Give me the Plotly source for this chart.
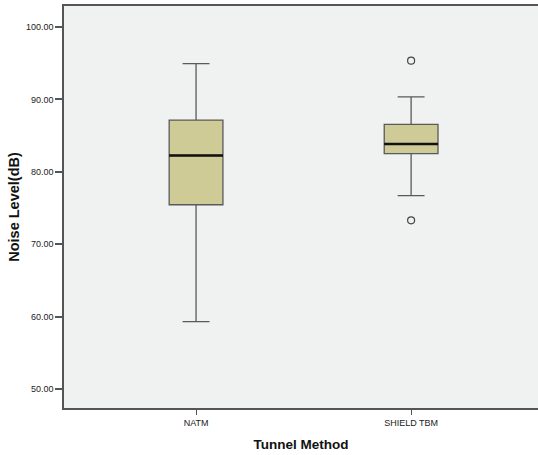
import plotly.graph_objects as go

categories = ["NATM", "SHIELD TBM"]
lower_whisker = [59.3, 76.7]
q1 = [75.45, 82.5]
median = [82.25, 83.85]
q3 = [87.15, 86.55]
upper_whisker = [94.95, 90.35]
outlier_cat = ["SHIELD TBM", "SHIELD TBM"]
outlier_val = [95.35, 73.3]

y_ticks = [50, 60, 70, 80, 90, 100]

FONT = "Liberation Sans, Arial, sans-serif"
BOX_FILL = "#CECB96"
BOX_LINE = "#5a5a5a"

fig = go.Figure()

fig.add_trace(go.Box(
    x=categories,
    q1=q1, median=median, q3=q3,
    lowerfence=lower_whisker, upperfence=upper_whisker,
    fillcolor=BOX_FILL,
    line=dict(color=BOX_LINE, width=1.3),
    width=0.25,
    whiskerwidth=0.5,
    boxpoints=False,
    hoverinfo="skip",
    showlegend=False,
))

# thick median line
fig.add_trace(go.Scatter(
    x=categories, y=median, mode="markers",
    marker=dict(symbol="line-ew", size=38.5, line=dict(color="#111111", width=2.5)),
    showlegend=False, hoverinfo="skip",
))

# outliers
fig.add_trace(go.Scatter(
    x=outlier_cat, y=outlier_val, mode="markers",
    marker=dict(symbol="circle-open", size=7, color="#444444", line=dict(width=1.2)),
    showlegend=False, hoverinfo="skip",
))

fig.update_layout(
    width=538, height=455,
    margin=dict(l=64, r=0, t=6, b=47),
    paper_bgcolor="white",
    plot_bgcolor="#F0F1F1",
    font=dict(family=FONT, size=9, color="#222222"),
    xaxis=dict(
        type="category",
        range=[-0.614, 1.59],
        showgrid=False, zeroline=False,
        showline=True, linecolor="#555555", linewidth=1.5, mirror=True,
        ticks="outside", ticklen=5, tickcolor="#555555", tickwidth=1,
        tickfont=dict(family=FONT, size=9, color="#222222"),
        title=dict(text="<b>Tunnel Method</b>", font=dict(family=FONT, size=13.5, color="#111111"), standoff=13),
    ),
    yaxis=dict(
        range=[47.38, 102.9],
        tickvals=y_ticks,
        tickformat=".2f",
        showgrid=False, zeroline=False,
        showline=True, linecolor="#555555", linewidth=1.5,
        ticks="outside", ticklen=7, tickcolor="#555555", tickwidth=1.5,
        tickfont=dict(family=FONT, size=9, color="#222222"),
        title=dict(text="<b>Noise Level(dB)</b>", font=dict(family=FONT, size=14.5, color="#111111"), standoff=3),
    ),
)

fig.write_html("out.html", config={"displayModeBar": False},
               post_script="document.body.style.margin='0';")
